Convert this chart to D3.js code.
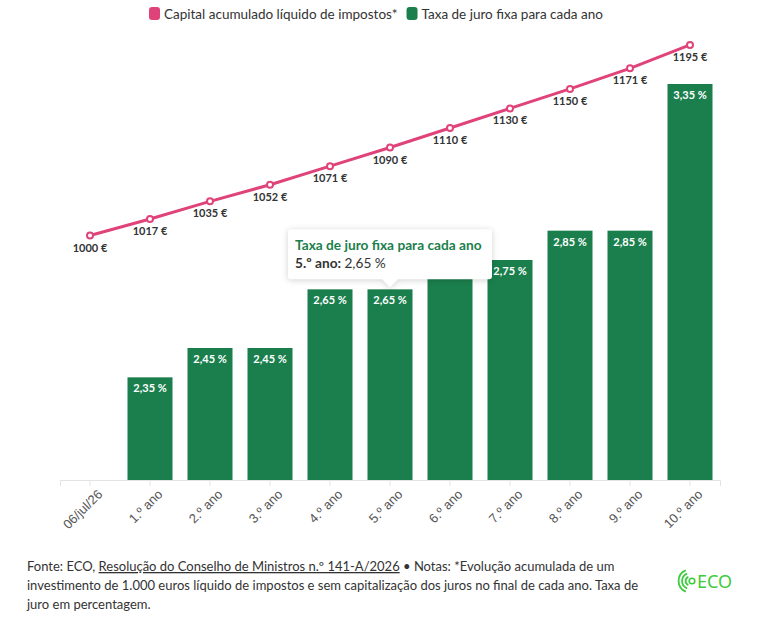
<!DOCTYPE html>
<html>
<head>
<meta charset="utf-8">
<script src="https://cdn.jsdelivr.net/npm/d3@7"></script>
<style>
  body { margin: 0; background: #fff; }
  svg { display: block; font-family: "Lato", "Noto Sans", sans-serif; }
</style>
</head>
<body>
<svg id="chart" width="769" height="619"></svg>
<script>
// chart data
const categories = ["06/jul/26", "1.º ano", "2.º ano", "3.º ano", "4.º ano", "5.º ano",
  "6.º ano", "7.º ano", "8.º ano", "9.º ano", "10.º ano"];
const capital = [1000, 1017, 1035, 1052, 1071, 1090, 1110, 1130, 1150, 1171, 1195];
const taxa = [null, 2.35, 2.45, 2.45, 2.65, 2.65, 2.75, 2.75, 2.85, 2.85, 3.35];
const seriesNames = ["Capital acumulado líquido de impostos*", "Taxa de juro fixa para cada ano"];

const pink = "#e0437a";
const green = "#1b7f4d";
const text_color = "#333";

const svg = d3.select("#chart");
const margin = { top: 40, left: 60, right: 49, bottom: 139 };
const width = 769 - margin.left - margin.right;
const height = 619 - margin.top - margin.bottom;

const g = svg.append("g").attr("transform", `translate(${margin.left},${margin.top})`);

// scales
const x = d3.scaleBand().domain(categories).range([0, 660]).paddingInner(0.25).paddingOuter(0.125);
const yBar = d3.scaleLinear().domain([2, 3.5]).range([height, 0]);
const yLine = d3.scaleLinear().domain([750, 1200]).range([height, 0]);
const cx = d => x(d) + x.bandwidth() / 2;

// x axis
const xAxis = g.append("g")
  .attr("transform", `translate(0,${height})`)
  .call(d3.axisBottom(x).tickSizeOuter(0).tickSize(6));
xAxis.select(".domain").attr("stroke", "#e3e3e3");
xAxis.selectAll(".tick line").attr("stroke", "#e3e3e3");
xAxis.selectAll(".tick text")
  .attr("fill", "#555")
  .attr("font-size", 13)
  .attr("text-anchor", "end")
  .attr("transform", "rotate(-45)")
  .attr("dx", "-0.1em")
  .attr("dy", "0.85em");

// bars
const barData = categories.map((c, i) => ({ cat: c, value: taxa[i] })).filter(d => d.value != null);
g.selectAll(".bar")
  .data(barData)
  .enter().append("rect")
  .attr("class", "bar")
  .attr("x", d => x(d.cat))
  .attr("y", d => yBar(d.value))
  .attr("width", x.bandwidth())
  .attr("height", d => height - yBar(d.value))
  .attr("fill", green);

g.selectAll(".bar-label")
  .data(barData)
  .enter().append("text")
  .attr("x", d => cx(d.cat))
  .attr("y", d => yBar(d.value) + 15)
  .attr("text-anchor", "middle")
  .attr("fill", "#fff")
  .attr("font-size", 11)
  .attr("font-weight", "bold")
  .text(d => d3.format(".2f")(d.value).replace(".", ",") + " %");

// line
const lineData = categories.map((c, i) => ({ cat: c, value: capital[i] }));
const line = d3.line().x(d => cx(d.cat)).y(d => yLine(d.value));
g.append("path")
  .datum(lineData)
  .attr("fill", "none")
  .attr("stroke", pink)
  .attr("stroke-width", 3)
  .attr("d", line);

g.selectAll(".dot")
  .data(lineData)
  .enter().append("circle")
  .attr("cx", d => cx(d.cat))
  .attr("cy", d => yLine(d.value))
  .attr("r", 3)
  .attr("fill", "#fff")
  .attr("stroke", pink)
  .attr("stroke-width", 2);

g.selectAll(".dot-label")
  .data(lineData)
  .enter().append("text")
  .attr("x", d => cx(d.cat))
  .attr("y", d => yLine(d.value) + 16)
  .attr("text-anchor", "middle")
  .attr("fill", text_color)
  .attr("font-size", 11)
  .attr("font-weight", "bold")
  .text(d => d.value + " €");

// tooltip on 5.º ano
const tipIdx = 5;
const tipX = cx(categories[tipIdx]);
const tipBottom = yBar(taxa[tipIdx]) - 10;
const tip = g.append("g");
const tipW = 204, tipH = 50;
const tx0 = tipX - 102 - margin.left + margin.left;
const ty0 = tipBottom - tipH;
tip.append("path")
  .attr("d", `M${tx0},${ty0 + 3} Q${tx0},${ty0} ${tx0 + 3},${ty0} H${tx0 + tipW - 3} Q${tx0 + tipW},${ty0} ${tx0 + tipW},${ty0 + 3}
    V${tipBottom - 3} Q${tx0 + tipW},${tipBottom} ${tx0 + tipW - 3},${tipBottom} H${tipX + 8} L${tipX},${tipBottom + 8} L${tipX - 8},${tipBottom}
    H${tx0 + 3} Q${tx0},${tipBottom} ${tx0},${tipBottom - 3} Z`)
  .attr("fill", "#fff")
  .style("filter", "drop-shadow(0px 1px 3px rgba(0,0,0,0.18))");
tip.append("text")
  .attr("x", tx0 + 7)
  .attr("y", ty0 + 21)
  .attr("fill", green)
  .attr("font-size", 13.7)
  .attr("font-weight", "bold")
  .text(seriesNames[1]);
const tipLine = tip.append("text")
  .attr("x", tx0 + 7)
  .attr("y", ty0 + 39)
  .attr("fill", text_color)
  .attr("font-size", 13.7);
tipLine.append("tspan").attr("font-weight", "bold").text(categories[tipIdx] + ": ");
tipLine.append("tspan").text(d3.format(".2f")(taxa[tipIdx]).replace(".", ",") + " %");

// legend
const legend = svg.append("g").attr("transform", "translate(149,7)");
const legItems = [{ name: seriesNames[0], color: pink }, { name: seriesNames[1], color: green }];
let lx = 0;
legItems.forEach(item => {
  const lg = legend.append("g").attr("transform", `translate(${lx},0)`);
  lg.append("rect").attr("width", 11).attr("height", 13).attr("rx", 3).attr("fill", item.color);
  const t = lg.append("text")
    .attr("x", 15).attr("y", 11.5)
    .attr("fill", text_color)
    .attr("font-size", 13.5)
    .text(item.name);
  lx += 15 + t.node().getComputedTextLength() + 9;
});

// footer
const footer = svg.append("g").attr("transform", "translate(27,571)");
const f1 = footer.append("text").attr("y", 0).attr("fill", text_color).attr("font-size", 13);
f1.append("tspan").text("Fonte: ECO, ");
f1.append("tspan").attr("text-decoration", "underline").text("Resolução do Conselho de Ministros n.º 141-A/2026");
f1.append("tspan").text(" • Notas: *Evolução acumulada de um");
footer.append("text").attr("y", 19).attr("fill", text_color).attr("font-size", 13)
  .text("investimento de 1.000 euros líquido de impostos e sem capitalização dos juros no final de cada ano. Taxa de");
footer.append("text").attr("y", 38).attr("fill", text_color).attr("font-size", 13)
  .text("juro em percentagem.");

// ECO logo
const logo = svg.append("g").attr("transform", "translate(690,581)");
const logoGreen = "#3dcc3d";
[3.5, 7, 10.5].forEach(r => {
  logo.append("path")
    .attr("d", d3.arc()({ innerRadius: r, outerRadius: r + 1.8, startAngle: Math.PI * 1.12, endAngle: Math.PI * 1.88 }))
    .attr("fill", logoGreen);
});
logo.append("circle").attr("r", 2.8).attr("cx", 2).attr("fill", "none").attr("stroke", logoGreen).attr("stroke-width", 1.6);
logo.append("text").attr("x", 7).attr("y", 6.5).attr("fill", logoGreen).attr("font-size", 18)
  .attr("font-family", "Noto Sans").text("ECO");
</script>
</body>
</html>
